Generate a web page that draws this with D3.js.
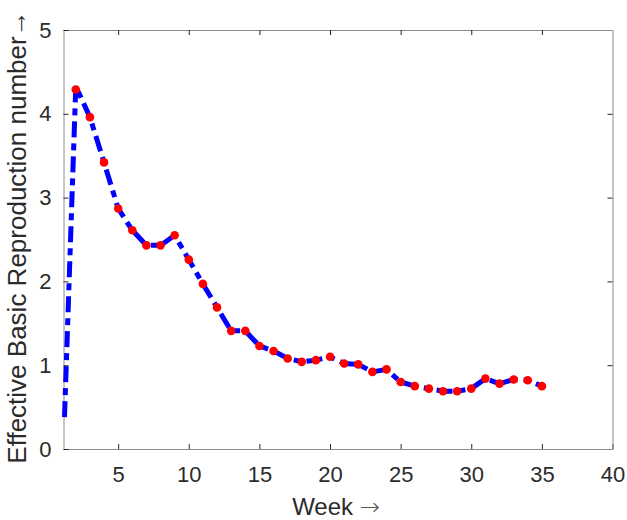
<!DOCTYPE html>
<html>
<head>
<meta charset="utf-8">
<script src="https://cdn.jsdelivr.net/npm/d3@7"></script>
<style>
  html, body { margin: 0; padding: 0; background: #fff; }
  svg { display: block; font-family: "Liberation Sans", Arial, sans-serif; }
</style>
</head>
<body>
<div id="chart"></div>
<script>
// 데이터
const dotWeeks = [2, 3, 4, 5, 6, 7, 8, 9, 10, 11, 12, 13, 14, 15, 16, 17, 18, 19, 20,
  21, 22, 23, 24, 25, 26, 27, 28, 29, 30, 31, 32, 33, 34, 35];
const dotValues = [4.29, 3.96, 3.42, 2.87, 2.61, 2.43, 2.43, 2.55, 2.26, 1.97, 1.69, 1.41, 1.41,
  1.23, 1.17, 1.08, 1.04, 1.06, 1.10, 1.02, 1.01, 0.92, 0.95, 0.80, 0.75, 0.72, 0.69, 0.69,
  0.72, 0.84, 0.78, 0.83, 0.82, 0.75];
const lineWeeks = [1.2].concat(dotWeeks);
const lineValues = [0.38, 4.33].concat(dotValues.slice(1));
const xTicks = [5, 10, 15, 20, 25, 30, 35, 40];
const yTicks = [0, 1, 2, 3, 4, 5];

const W = 627, H = 520;
const margin = { left: 63.5, right: W - 612.5, top: 30, bottom: H - 449 };

const svg = d3.select('#chart').append('svg')
  .attr('width', W).attr('height', H);

const x = d3.scaleLinear().domain([1.13, 40]).range([margin.left, W - margin.right]);
const y = d3.scaleLinear().domain([0, 5]).range([H - margin.bottom, margin.top]);

// 축 (안쪽 눈금, 네 방향)
const tickLen = 5;
function styleAxis(g) {
  g.select('.domain').attr('stroke', '#8c8c8c').attr('stroke-width', 1);
  g.selectAll('.tick line').attr('stroke', '#262626');
  g.selectAll('.tick text').attr('fill', '#2b2b2b').attr('font-size', 22);
}

svg.append('g')
  .attr('transform', `translate(0,${y(0)})`)
  .call(d3.axisBottom(x).tickValues(xTicks).tickSizeInner(-tickLen).tickSizeOuter(0).tickPadding(17).tickFormat(d3.format('d')))
  .call(styleAxis);
svg.append('g')
  .attr('transform', `translate(0,${y(5)})`)
  .call(d3.axisTop(x).tickValues(xTicks.slice(0, -1)).tickSizeInner(-tickLen).tickSizeOuter(0).tickFormat(''))
  .call(styleAxis);
svg.append('g')
  .attr('transform', `translate(${x.range()[0]},0)`)
  .call(d3.axisLeft(y).tickValues(yTicks).tickSizeInner(-tickLen).tickSizeOuter(0).tickPadding(12).tickFormat(d3.format('d')))
  .call(styleAxis);
svg.append('g')
  .attr('transform', `translate(${x.range()[1]},0)`)
  .call(d3.axisRight(y).tickValues(yTicks.slice(1, -1)).tickSizeInner(-tickLen).tickSizeOuter(0).tickFormat(''))
  .call(styleAxis);

// 파란 일점쇄선
const line = d3.line().x((d, i) => x(lineWeeks[i])).y(d => y(d));
svg.append('path')
  .datum(lineValues)
  .attr('d', line)
  .attr('fill', 'none')
  .attr('stroke', '#0000ff')
  .attr('stroke-width', 5)
  .attr('stroke-dasharray', '16 6 7 6');

// 빨간 점
svg.append('g').selectAll('circle')
  .data(dotValues)
  .join('circle')
  .attr('cx', (d, i) => x(dotWeeks[i]))
  .attr('cy', d => y(d))
  .attr('r', 4.3)
  .attr('fill', '#ff0000');

// 축 라벨
const xLabel = svg.append('text')
  .attr('x', 336).attr('y', 515)
  .attr('text-anchor', 'middle')
  .attr('fill', '#2b2b2b')
  .attr('font-size', 24);
xLabel.append('tspan').text('Week ');
xLabel.append('tspan').attr('font-family', 'DejaVu Sans').attr('font-weight', 300).attr('fill', '#555').text('\u2192');

svg.append('text')
  .attr('transform', 'translate(26,237) rotate(-90)')
  .attr('text-anchor', 'middle')
  .attr('fill', '#2b2b2b')
  .attr('font-size', 26)
  .text('Effective Basic Reproduction number\u2192');
</script>
</body>
</html>
